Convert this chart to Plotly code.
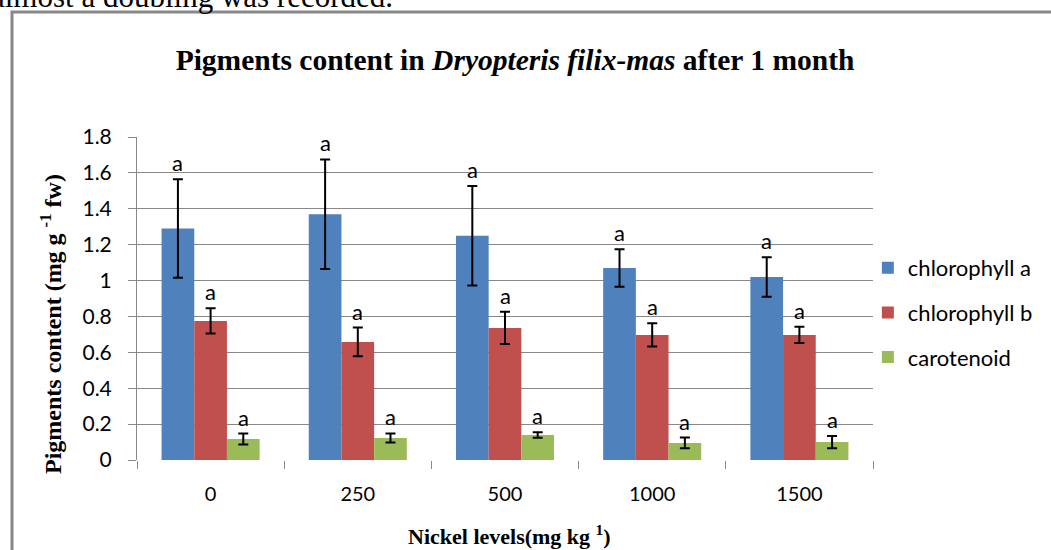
import plotly.graph_objects as go

categories = ["0", "250", "500", "1000", "1500"]
series_names = ["chlorophyll a", "chlorophyll b", "carotenoid"]
chl_a = [1.29, 1.37, 1.25, 1.07, 1.02]
chl_a_err = [0.275, 0.305, 0.277, 0.105, 0.11]
chl_b = [0.775, 0.658, 0.736, 0.697, 0.697]
chl_b_err = [0.07, 0.08, 0.09, 0.065, 0.045]
carot = [0.117, 0.123, 0.139, 0.095, 0.100]
carot_err = [0.03, 0.025, 0.015, 0.03, 0.034]
sig_letters = [["a"] * 5, ["a"] * 5, ["a"] * 5]
y_ticks = [0, 0.2, 0.4, 0.6, 0.8, 1.0, 1.2, 1.4, 1.6, 1.8]
y_tick_text = ["0", "0.2", "0.4", "0.6", "0.8", "1", "1.2", "1.4", "1.6", "1.8"]

colors = ["#4F81BD", "#C0504D", "#9BBB59"]
values = [chl_a, chl_b, carot]
errors = [chl_a_err, chl_b_err, carot_err]

W, H = 1051, 550
L, R, T, B = 137, 873, 137, 460
pw, ph = R - L, B - T


def px(x):
    return (x - L) / pw


def py(y):
    return (B - y) / ph


fig = go.Figure()
for i in range(3):
    fig.add_trace(go.Bar(
        x=categories, y=values[i], name=series_names[i],
        marker=dict(color=colors[i], line=dict(width=0)),
        error_y=dict(type="data", array=errors[i], visible=True,
                     color="#000000", thickness=2, width=5),
        legendgroup=series_names[i],
    ))

sans = "Lato"
serif = "Liberation Serif"

# significance letters above error bars
gw = 1 - 0.334
for i in range(3):
    for j, c in enumerate(categories):
        offset = (i - 1) * gw / 3
        fig.add_annotation(
            x=j + offset, y=values[i][j] + errors[i][j], xref="x", yref="y",
            text=sig_letters[i][j], showarrow=False, xanchor="center", yanchor="bottom",
            font=dict(family=sans, size=22, color="#000000"), yshift=1,
        )

# axis titles
fig.add_annotation(
    x=px(51), y=py(324), xref="paper", yref="paper", textangle=-90,
    xanchor="center", yanchor="middle",
    text="<b>Pigments content (mg g <sup>-1</sup> fw)</b>", showarrow=False,
    font=dict(family=serif, size=24, color="#000000"),
)
fig.add_annotation(
    x=px(509), y=py(535), xref="paper", yref="paper",
    xanchor="center", yanchor="middle",
    text="<b>Nickel levels(mg kg <sup>1</sup>)</b>", showarrow=False,
    font=dict(family=serif, size=22, color="#000000"),
)
# cropped text from surrounding page
fig.add_annotation(
    x=px(395), y=py(16), xref="paper", yref="paper", xanchor="right", yanchor="bottom",
    text="almost a doubling was recorded.", showarrow=False,
    font=dict(family=serif, size=31, color="#000000"),
)

# outer frame
fig.add_shape(type="rect", xref="paper", yref="paper",
              x0=px(12), x1=px(1060), y0=py(560), y1=py(12),
              line=dict(color="#888888", width=3), fillcolor="rgba(0,0,0,0)")

# hide the baseline gridline (the reference shows none at 0)
try:
    fig.add_shape(type="line", xref="paper", yref="y", x0=0.002, x1=1.0, y0=0, y1=0,
                  line=dict(color="white", width=2), layer="between")
except Exception:
    pass

fig.update_layout(
    width=W, height=H,
    margin=dict(l=L, r=W - R, t=T, b=H - B),
    paper_bgcolor="white", plot_bgcolor="white",
    barmode="group", bargap=0.334, bargroupgap=0,
    title=dict(
        text="<b>Pigments content in <i>Dryopteris filix-mas</i> after 1 month</b>",
        x=515 / W, xanchor="center", y=1 - 60 / H, yanchor="middle",
        font=dict(family=serif, size=29.5, color="#000000"),
    ),
    legend=dict(
        x=0.993, xanchor="left", y=py(247), yanchor="top",
        font=dict(family=sans, size=22, color="#000000"),
        traceorder="grouped", tracegroupgap=13,
        bgcolor="rgba(0,0,0,0)",
    ),
    xaxis=dict(
        type="category", tickson="boundaries", ticks="outside", ticklen=8,
        tickcolor="#888888", showline=False, showgrid=False,
        tickfont=dict(family=sans, size=20, color="#000000"),
        ticklabelstandoff=20,
    ),
    yaxis=dict(
        range=[0, 1.8], tickvals=y_ticks, ticktext=y_tick_text,
        ticks="outside", ticklen=8, tickcolor="#888888",
        showline=True, linecolor="#888888", linewidth=1,
        showgrid=True, gridcolor="#888888", gridwidth=1, zeroline=False,
        tickfont=dict(family=sans, size=21, color="#000000"),
        ticklabelstandoff=12,
    ),
)

fig.write_html("out.html", config={"displayModeBar": False},
               post_script="document.body.style.margin='0px';")
